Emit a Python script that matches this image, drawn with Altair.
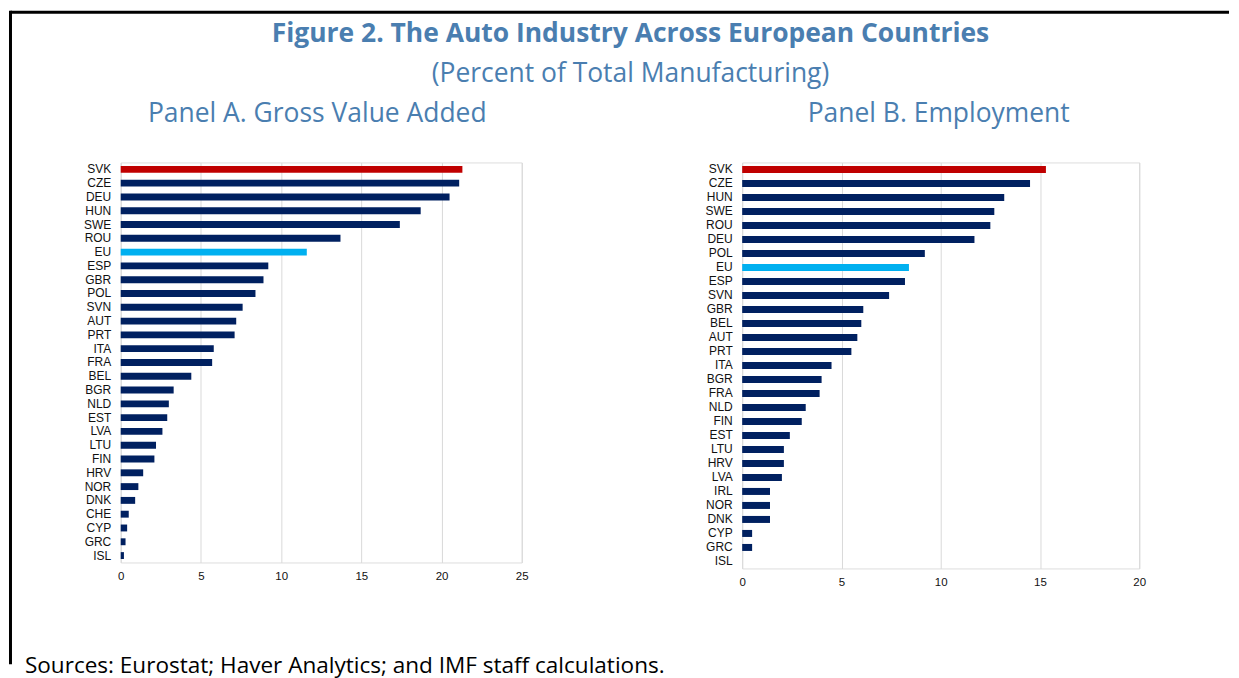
import altair as alt
import pandas as pd

# ---------------- data ----------------
gva_countries = ["SVK", "CZE", "DEU", "HUN", "SWE", "ROU", "EU", "ESP", "GBR", "POL",
                 "SVN", "AUT", "PRT", "ITA", "FRA", "BEL", "BGR", "NLD", "EST", "LVA",
                 "LTU", "FIN", "HRV", "NOR", "DNK", "CHE", "CYP", "GRC", "ISL"]
gva_values = [21.3, 21.1, 20.5, 18.7, 17.4, 13.7, 11.6, 9.2, 8.9, 8.4,
              7.6, 7.2, 7.1, 5.8, 5.7, 4.4, 3.3, 3.0, 2.9, 2.6,
              2.2, 2.1, 1.4, 1.1, 0.9, 0.5, 0.4, 0.3, 0.2]

emp_countries = ["SVK", "CZE", "HUN", "SWE", "ROU", "DEU", "POL", "EU", "ESP", "SVN",
                 "GBR", "BEL", "AUT", "PRT", "ITA", "BGR", "FRA", "NLD", "FIN", "EST",
                 "LTU", "HRV", "LVA", "IRL", "NOR", "DNK", "CYP", "GRC", "ISL"]
emp_values = [15.3, 14.5, 13.2, 12.7, 12.5, 11.7, 9.2, 8.4, 8.2, 7.4,
              6.1, 6.0, 5.8, 5.5, 4.5, 4.0, 3.9, 3.2, 3.0, 2.4,
              2.1, 2.1, 2.0, 1.4, 1.4, 1.4, 0.5, 0.5, 0.0]

gva_ticks = [0, 5, 10, 15, 20, 25]
emp_ticks = [0, 5, 10, 15, 20]

main_title = "Figure 2. The Auto Industry Across European Countries"
sub_title = "(Percent of Total Manufacturing)"
panel_a_title = "Panel A. Gross Value Added"
panel_b_title = "Panel B. Employment"
source_note = "Sources: Eurostat; Haver Analytics; and IMF staff calculations."

TITLE_BLUE = "#4a7eb0"
TITLE_FONT = "Open Sans"


def text_layer(txt, x, y, size, weight="normal", align="center", color=TITLE_BLUE):
    return alt.Chart(pd.DataFrame({"t": [txt]})).mark_text(
        font=TITLE_FONT, fontSize=size, fontWeight=weight, align=align,
        baseline="alphabetic", color=color,
    ).encode(x=alt.value(x), y=alt.value(y), text="t:N")


def panel(countries, values, ticks, width, height):
    df = pd.DataFrame({"country": countries, "value": values})
    color = (alt.when(alt.datum.country == "SVK").then(alt.value("#C00000"))
             .when(alt.datum.country == "EU").then(alt.value("#00B0F0"))
             .otherwise(alt.value("#002060")))
    bars = alt.Chart(df).mark_bar().encode(
        x=alt.X("value:Q",
                scale=alt.Scale(domain=[ticks[0], ticks[-1]], nice=False),
                axis=alt.Axis(values=ticks, grid=True, gridColor="#d9d9d9",
                              gridWidth=1, domain=False, ticks=False,
                              labelFlush=False,
                              labelFont="Liberation Sans", labelFontSize=11.5,
                              labelColor="#111111", labelPadding=8, title=None)),
        y=alt.Y("country:N", sort=countries,
                scale=alt.Scale(paddingInner=0.5, paddingOuter=0.25),
                axis=alt.Axis(domain=False, ticks=False, grid=False,
                              labelFont="Liberation Sans", labelFontSize=12,
                              labelColor="#111111", labelPadding=10, title=None)),
        color=color,
    ).properties(width=width, height=height)
    return bars


# panel A with the frame and figure texts
pa = panel(gva_countries, gva_values, gva_ticks, 402, 401)

frame_top = alt.Chart(pd.DataFrame({"a": [0]})).mark_rule(
    color="black", strokeWidth=3).encode(
    x=alt.value(-110.5), x2=alt.value(1111), y=alt.value(-150.5))
frame_left = alt.Chart(pd.DataFrame({"a": [0]})).mark_rule(
    color="black", strokeWidth=3).encode(
    x=alt.value(-110.5), y=alt.value(-152), y2=alt.value(503))

left = alt.layer(
    pa,
    frame_top,
    frame_left,
    text_layer(main_title, 511, -121, 26.5, weight="bold"),
    text_layer(sub_title, 511, -81, 26.5),
    text_layer(panel_a_title, 197, -41, 26.5),
    text_layer(source_note, -96, 512, 22.6, align="left", color="#000000"),
)

pb = panel(emp_countries, emp_values, emp_ticks, 398, 407)
right = alt.layer(
    pb,
    text_layer(panel_b_title, 197, -41, 26.5),
)

chart = alt.hconcat(left, right, spacing=221, bounds="flush").properties(
    padding={"left": 0, "top": 0, "right": 0, "bottom": 0}
).configure_view(stroke="transparent", strokeWidth=0).configure(background="white")

chart.save("out.html", embed_options={"renderer": "svg", "actions": False})
